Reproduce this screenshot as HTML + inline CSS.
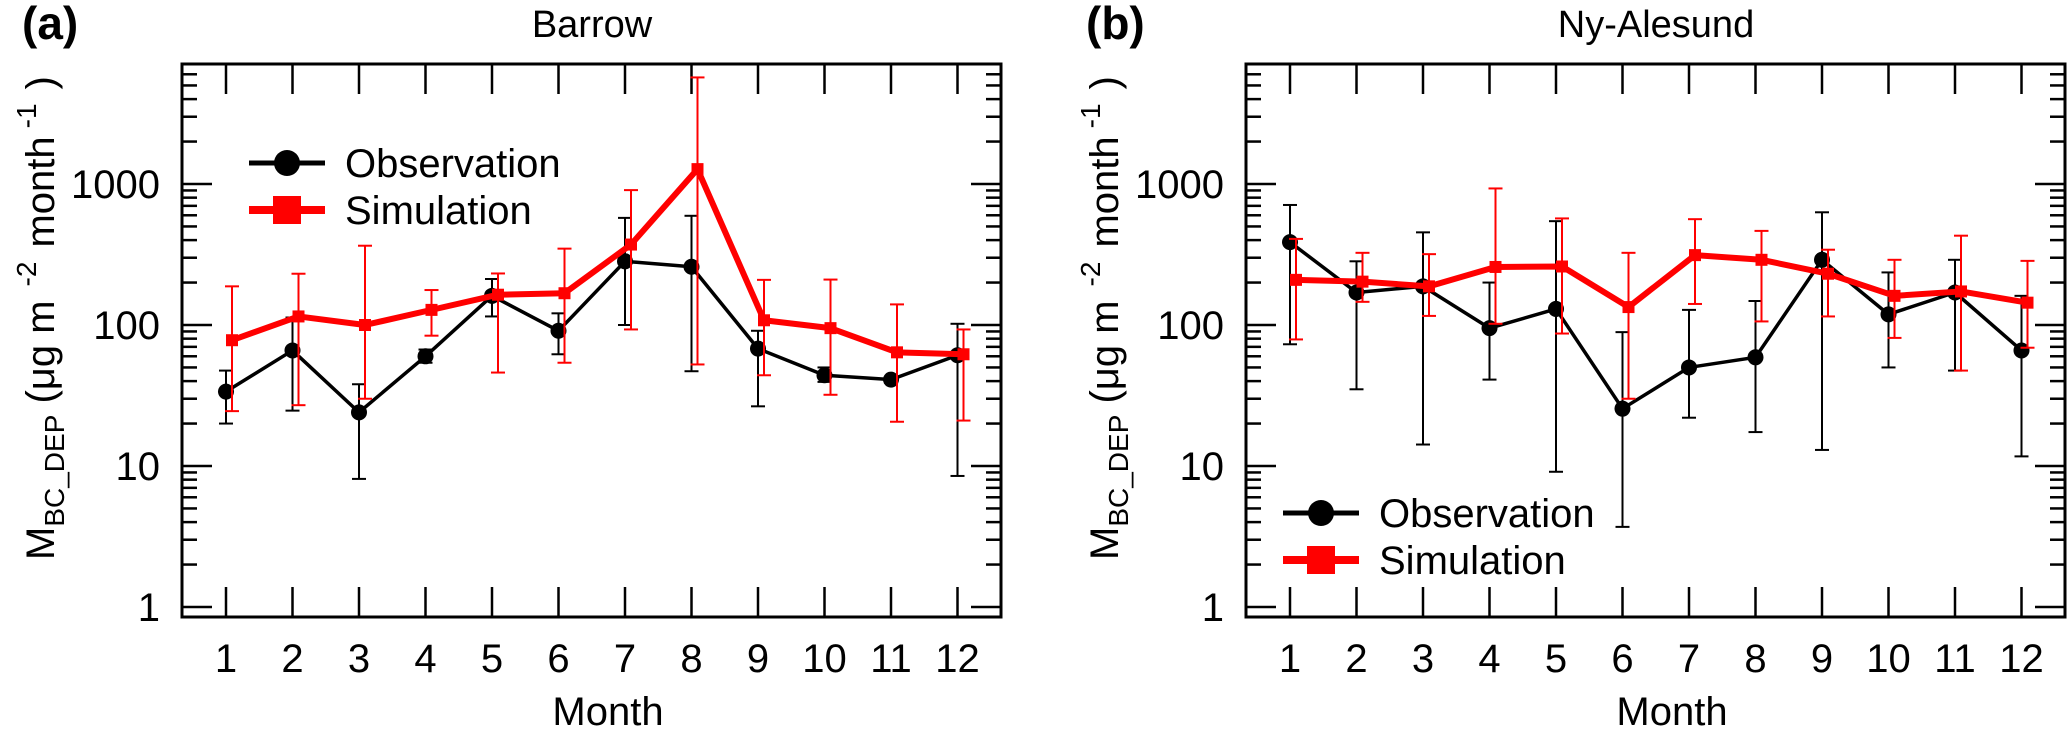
<!DOCTYPE html>
<html><head><meta charset="utf-8"><style>
html,body{margin:0;padding:0;background:#fff;}
svg{display:block;font-family:"Liberation Sans",Arial,sans-serif;}
</style></head><body>
<svg id="fig" width="2067" height="729" viewBox="0 0 2067 729" xmlns="http://www.w3.org/2000/svg"></svg>
<script>
const months = [1,2,3,4,5,6,7,8,9,10,11,12];
const yTicks = [1,10,100,1000];
const yTickLabels = ["1","10","100","1000"];
// Panel a: Barrow
const barrowObs = [33.7,66,24,60,161,91,283,259,68,44,41,61];
const barrowObsLo = [20,24.7,8.1,54,115,62,100,47,26.5,39.5,39,8.5];
const barrowObsHi = [47.5,113,38,67,212,121,575,595,91,50,43,102];
const barrowSim = [78,115,100,128,164,168,372,1275,108,95,64,62];
const barrowSimLo = [24.5,27,30,84,46,54,93,52.5,44,32,20.6,21];
const barrowSimHi = [188,231,365,177,232,348,905,5700,209,210,140,93];
// Panel b: Ny-Alesund
const nyObs = [387,170,188,95,130,25.5,50,59,290,119,170,66];
const nyObsLo = [73,35,14.2,41,9.1,3.7,22,17.4,13,50,47.5,11.7];
const nyObsHi = [710,283,454,200,545,89,128,148,630,236,290,161];
const nySim = [209,203,188,258,260,134,313,290,231,161,173,144];
const nySimLo = [79,146,116,102,87,30,141,106,115,81,47.5,69];
const nySimHi = [408,325,318,930,570,325,563,465,342,290,430,285];

const NS="http://www.w3.org/2000/svg";
const svg=document.getElementById('fig');
function el(tag,attrs,parent){const e=document.createElementNS(NS,tag);for(const k in attrs)e.setAttribute(k,attrs[k]);(parent||svg).appendChild(e);return e;}

function panel(off, title, letter, obs, obsLo, obsHi, sim, simLo, simHi, legX, legY){
  const g=el('g',{transform:`translate(${off},0)`});
  
  
  const L=182,R=1001,T=64,B=617;
  const xs=m=>226+(m-1)*66.5;
  const ys=v=>184-141*(Math.log10(v)-3);
  // axis box
  const box=el('rect',{x:L,y:T,width:R-L,height:B-T,fill:'none',stroke:'#000','stroke-width':3},g);
  
  
  // y ticks
  for(let d=0; d<4; d++){
    for(let k=1;k<=9;k++){
      const v=k*Math.pow(10,d); const y=ys(v);
      if(y<T+2) continue;
      const len=k===1?30:15;
      el('line',{x1:L,x2:L+len,y1:y,y2:y,stroke:'#000','stroke-width':2.5},g);
      el('line',{x1:R-len,x2:R,y1:y,y2:y,stroke:'#000','stroke-width':2.5},g);
    }
  }
  yTicks.forEach((v,i)=>{
    const t=el('text',{x:160,y:ys(v)+14,'text-anchor':'end','font-size':40},g);
    t.textContent=yTickLabels[i];
    
    
  });
  months.forEach(m=>{
    const x=xs(m);
    el('line',{x1:x,x2:x,y1:T,y2:T+30,stroke:'#000','stroke-width':2.5},g);
    el('line',{x1:x,x2:x,y1:B-30,y2:B,stroke:'#000','stroke-width':2.5},g);
    const t=el('text',{x:x,y:672,'text-anchor':'middle','font-size':40},g);
    t.textContent=String(m);
    
    
  });
  // titles
  const tt=el('text',{x:592,y:37,'text-anchor':'middle','font-size':38},g); tt.textContent=title;
  
  
  const lt=el('text',{x:22,y:39,'font-size':46,'font-weight':'bold'},g); lt.textContent='('+letter+')';
  
  
  const xt=el('text',{x:608,y:725,'text-anchor':'middle','font-size':40},g); xt.textContent='Month';
  
  
  // y axis title
  const yt=el('text',{transform:'translate(54,560) rotate(-90)','font-size':40},g);
  
  
  yt.innerHTML='M<tspan font-size="28" dy="10">BC_DEP</tspan><tspan dy="-10"> (μg m</tspan><tspan font-size="28" dy="-18" dx="14">-2</tspan><tspan dy="18" dx="14">month</tspan><tspan font-size="28" dy="-18" dx="8">-1</tspan><tspan dy="18" dx="14">)</tspan>';
  // error bars + series
  function series(vals,lo,hi,color,dx,lw,marker,name){
    const sg=el('g',{},g);
    
    
    months.forEach((m,i)=>{
      const x=xs(m)+dx;
      el('line',{x1:x,x2:x,y1:ys(lo[i]),y2:ys(hi[i]),stroke:color,'stroke-width':2},sg);
      el('line',{x1:x-7,x2:x+7,y1:ys(lo[i]),y2:ys(lo[i]),stroke:color,'stroke-width':2},sg);
      el('line',{x1:x-7,x2:x+7,y1:ys(hi[i]),y2:ys(hi[i]),stroke:color,'stroke-width':2},sg);
    });
    const pts=months.map((m,i)=>(xs(m)+dx)+','+ys(vals[i])).join(' ');
    const pl=el('polyline',{points:pts,fill:'none',stroke:color,'stroke-width':lw,'stroke-linejoin':'round'},sg);
    
    
    months.forEach((m,i)=>{
      const x=xs(m)+dx,y=ys(vals[i]);
      let mk;
      if(marker==='c') mk=el('circle',{cx:x,cy:y,r:8,fill:color},sg);
      else mk=el('rect',{x:x-6,y:y-6,width:12,height:12,fill:color},sg);
      
      
    });
  }
  series(obs,obsLo,obsHi,'#000',0,3.5,'c','observation');
  series(sim,simLo,simHi,'#f00',6,6,'s','simulation');
  // legend
  const lg=el('g',{},g);
  
  
  el('line',{x1:legX-38,x2:legX+38,y1:legY,y2:legY,stroke:'#000','stroke-width':5},lg);
  el('circle',{cx:legX,cy:legY,r:13,fill:'#000'},lg);
  const o=el('text',{x:legX+58,y:legY+14,'font-size':40},lg); o.textContent='Observation';
  
  
  const sy=legY+47;
  el('line',{x1:legX-38,x2:legX+38,y1:sy,y2:sy,stroke:'#f00','stroke-width':8},lg);
  el('rect',{x:legX-14,y:sy-14,width:28,height:28,fill:'#f00'},lg);
  const s=el('text',{x:legX+58,y:sy+14,'font-size':40},lg); s.textContent='Simulation';
  
  
}
panel(0,'Barrow','a',barrowObs,barrowObsLo,barrowObsHi,barrowSim,barrowSimLo,barrowSimHi,287,163);
panel(1064,'Ny-Alesund','b',nyObs,nyObsLo,nyObsHi,nySim,nySimLo,nySimHi,257,513);
</script>
</body></html>
